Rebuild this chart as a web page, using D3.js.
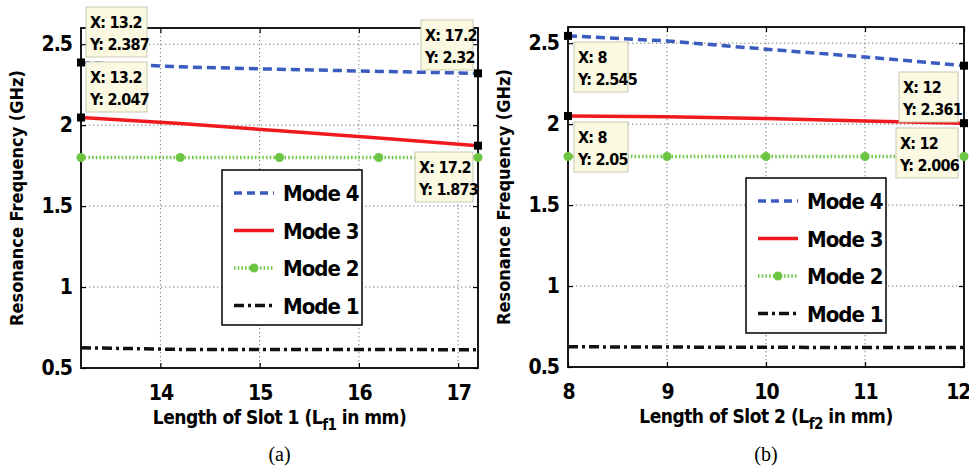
<!DOCTYPE html>
<html>
<head>
<meta charset="utf-8">
<script src="https://cdn.jsdelivr.net/npm/d3@7"></script>
<style>
  body { margin: 0; background: #fff; }
  svg text { font-family: "Liberation Sans Narrow", "DejaVu Sans Condensed", "Arial Narrow", sans-serif; font-weight: bold; }
  .caption { font-family: "Liberation Serif", "DejaVu Serif", serif !important; font-weight: normal !important; }
</style>
</head>
<body>
<svg id="chart" width="969" height="466"></svg>
<script>
// Mode names, legend order top to bottom
const modeNames = ["Mode 4", "Mode 3", "Mode 2", "Mode 1"];

// (a) slot 1 sweep
const slot1X = [13.2, 14.2, 15.2, 16.2, 17.2];
const slot1Mode4 = [2.387, 2.36, 2.345, 2.332, 2.32];
const slot1Mode3 = [2.047, 2.01, 1.965, 1.92, 1.873];
const slot1Mode2 = [1.8, 1.8, 1.8, 1.8, 1.8];
const slot1Mode1 = [0.625, 0.615, 0.615, 0.615, 0.612];
const slot1Ticks = [14, 15, 16, 17];

// (b) slot 2 sweep
const slot2X = [8, 9, 10, 11, 12];
const slot2Mode4 = [2.545, 2.514, 2.463, 2.415, 2.361];
const slot2Mode3 = [2.05, 2.045, 2.035, 2.02, 2.006];
const slot2Mode2 = [1.8, 1.8, 1.8, 1.8, 1.8];
const slot2Mode1 = [0.625, 0.623, 0.622, 0.62, 0.62];
const slot2Ticks = [8, 9, 10, 11, 12];

const freqTicks = [0.5, 1, 1.5, 2, 2.5];

// data tips: [x, y]
const slot1Tips = [[13.2, 2.387], [13.2, 2.047], [17.2, 2.32], [17.2, 1.873]];
const slot2Tips = [[8, 2.545], [8, 2.05], [12, 2.361], [12, 2.006]];

const styles = [
  { color: "#3a5bbf", dash: "9,5", width: 3.5 },
  { color: "#f0191e", dash: null, width: 3.5 },
  { color: "#6cc644", dash: "1.5,2.2", width: 3.5 },
  { color: "#111", dash: "10,4,3,4", width: 3.5 }
];

const svg = d3.select("#chart");

function drawPanel(cfg) {
  const x = d3.scaleLinear().domain(cfg.xDomain).range([cfg.left, cfg.right]);
  const y = d3.scaleLinear().domain([0.5, 2.6]).range([cfg.bottom, cfg.top]);
  const g = svg.append("g");

  // grid
  g.selectAll(".gx").data(cfg.xTicks.filter(t => x(t) > cfg.left + 2 && x(t) < cfg.right - 2))
    .enter().append("line")
    .attr("x1", d => x(d)).attr("x2", d => x(d))
    .attr("y1", cfg.top).attr("y2", cfg.bottom)
    .attr("stroke", "#777").attr("stroke-width", 1).attr("stroke-dasharray", "1.3,2.7");
  g.selectAll(".gy").data(freqTicks.filter(t => t > 0.5))
    .enter().append("line")
    .attr("x1", cfg.left).attr("x2", cfg.right)
    .attr("y1", d => y(d)).attr("y2", d => y(d))
    .attr("stroke", "#777").attr("stroke-width", 1).attr("stroke-dasharray", "1.3,2.7");

  // axes (MATLAB-like: inward ticks on all sides)
  const axFont = "21px";
  const bottomAx = g.append("g").attr("transform", `translate(0,${cfg.bottom})`)
    .call(d3.axisBottom(x).tickValues(cfg.xTicks).tickSize(-5).tickPadding(17).tickFormat(d3.format("d")));
  const topAx = g.append("g").attr("transform", `translate(0,${cfg.top})`)
    .call(d3.axisTop(x).tickValues(cfg.xTicks).tickSize(-5).tickFormat(""));
  const leftAx = g.append("g").attr("transform", `translate(${cfg.left},0)`)
    .call(d3.axisLeft(y).tickValues(freqTicks).tickSize(-5).tickPadding(9).tickFormat(d3.format("")));
  const rightAx = g.append("g").attr("transform", `translate(${cfg.right},0)`)
    .call(d3.axisRight(y).tickValues(freqTicks).tickSize(-5).tickFormat(""));
  [bottomAx, topAx, leftAx, rightAx].forEach(a => {
    a.select(".domain").remove();
    a.selectAll("line").attr("stroke", "#000").attr("stroke-width", 1.2);
    a.selectAll("text").attr("fill", "#000").style("font-size", axFont).style("letter-spacing", "-1px");
  });
  // keep the last x label inside the page
  bottomAx.selectAll("text").filter(d => x(d) > 955).attr("text-anchor", "end").attr("dx", 6);
  g.append("rect")
    .attr("x", cfg.left).attr("y", cfg.top)
    .attr("width", cfg.right - cfg.left).attr("height", cfg.bottom - cfg.top)
    .attr("fill", "none").attr("stroke", "#000").attr("stroke-width", 1.8);

  // series lines
  const line = d3.line().x(d => x(d[0])).y(d => y(d[1]));
  cfg.series.forEach((vals, i) => {
    const pts = cfg.xs.map((v, k) => [v, vals[k]]);
    g.append("path").datum(pts)
      .attr("d", line).attr("fill", "none")
      .attr("stroke", styles[i].color).attr("stroke-width", styles[i].width)
      .attr("stroke-dasharray", styles[i].dash);
    if (i === 2) {
      g.selectAll(".m2").data(pts).enter().append("circle")
        .attr("cx", d => x(d[0])).attr("cy", d => y(d[1])).attr("r", 4.5)
        .attr("fill", styles[i].color);
    }
  });

  // legend
  const lg = g.append("g");
  lg.append("rect")
    .attr("x", cfg.legend.x).attr("y", cfg.legend.y)
    .attr("width", 140).attr("height", 155)
    .attr("fill", "#fff").attr("stroke", "#000").attr("stroke-width", 1.5);
  modeNames.forEach((name, i) => {
    const ly = cfg.legend.y + 23 + i * 37.5;
    lg.append("line")
      .attr("x1", cfg.legend.x + 12).attr("x2", cfg.legend.x + 52)
      .attr("y1", ly).attr("y2", ly)
      .attr("stroke", styles[i].color).attr("stroke-width", styles[i].width)
      .attr("stroke-dasharray", styles[i].dash === "9,5" ? "8,5" : styles[i].dash);
    if (i === 2) {
      lg.append("circle").attr("cx", cfg.legend.x + 32).attr("cy", ly).attr("r", 4.5).attr("fill", styles[i].color);
    }
    lg.append("text")
      .attr("x", cfg.legend.x + 61).attr("y", ly + 8)
      .style("font-size", "22px").style("letter-spacing", "-1px").attr("fill", "#000")
      .text(name);
  });

  // data tips
  cfg.tips.forEach((t, i) => {
    const off = cfg.tipBoxes[i];
    const px = x(t[0]), py = y(t[1]);
    const tg = g.append("g");
    tg.append("rect")
      .attr("x", off[0]).attr("y", off[1]).attr("width", off[2]).attr("height", 50)
      .attr("fill", "#fbf9e1").attr("stroke", "#c9c7b0").attr("stroke-width", 1);
    tg.append("text").attr("x", off[0] + 4).attr("y", off[1] + 21)
      .style("font-size", "16px").style("letter-spacing", "-0.8px").attr("fill", "#000").text(`X: ${t[0]}`);
    tg.append("text").attr("x", off[0] + 4).attr("y", off[1] + 43)
      .style("font-size", "16px").style("letter-spacing", "-0.8px").attr("fill", "#000").text(`Y: ${t[1]}`);
    g.append("rect")
      .attr("x", px - 4).attr("y", py - 4).attr("width", 8).attr("height", 8)
      .attr("fill", "#000");
  });

  // axis titles
  g.append("text")
    .attr("transform", `translate(${cfg.left - 58},${(cfg.top + cfg.bottom) / 2}) rotate(-90)`)
    .attr("text-anchor", "middle").style("font-size", "18px").attr("fill", "#000")
    .text("Resonance Frequency  (GHz)");
  const xt = g.append("text")
    .attr("x", (cfg.left + cfg.right) / 2).attr("y", cfg.bottom + 56)
    .attr("text-anchor", "middle").style("font-size", "19px").style("letter-spacing", "-0.5px").attr("fill", "#000");
  xt.append("tspan").text(cfg.xTitle[0]);
  xt.append("tspan").attr("dy", 6).style("font-size", "15px").text(cfg.xTitle[1]);
  xt.append("tspan").attr("dy", -6).text(cfg.xTitle[2]);

  g.append("text").attr("class", "caption")
    .attr("x", (cfg.left + cfg.right) / 2).attr("y", 461)
    .attr("text-anchor", "middle").style("font-size", "20px").attr("fill", "#000")
    .text(cfg.caption);
}

drawPanel({
  xDomain: [13.2, 17.2], xTicks: slot1Ticks, xs: slot1X,
  left: 81, right: 478, top: 28, bottom: 368,
  series: [slot1Mode4, slot1Mode3, slot1Mode2, slot1Mode1],
  legend: { x: 222, y: 170 },
  tips: slot1Tips,
  tipBoxes: [[86, 7, 61], [86, 62, 61], [421, 20, 52], [415, 152, 58]],
  xTitle: ["Length of Slot 1 (L", "f1", " in mm)"],
  caption: "(a)"
});

drawPanel({
  xDomain: [8, 12], xTicks: slot2Ticks, xs: slot2X,
  left: 568, right: 964, top: 27, bottom: 367,
  series: [slot2Mode4, slot2Mode3, slot2Mode2, slot2Mode1],
  legend: { x: 746, y: 178 },
  tips: slot2Tips,
  tipBoxes: [[574, 42, 54], [574, 122, 54], [899, 72, 59], [896, 128, 62]],
  xTitle: ["Length of Slot 2 (L", "f2", " in mm)"],
  caption: "(b)"
});
</script>
</body>
</html>
